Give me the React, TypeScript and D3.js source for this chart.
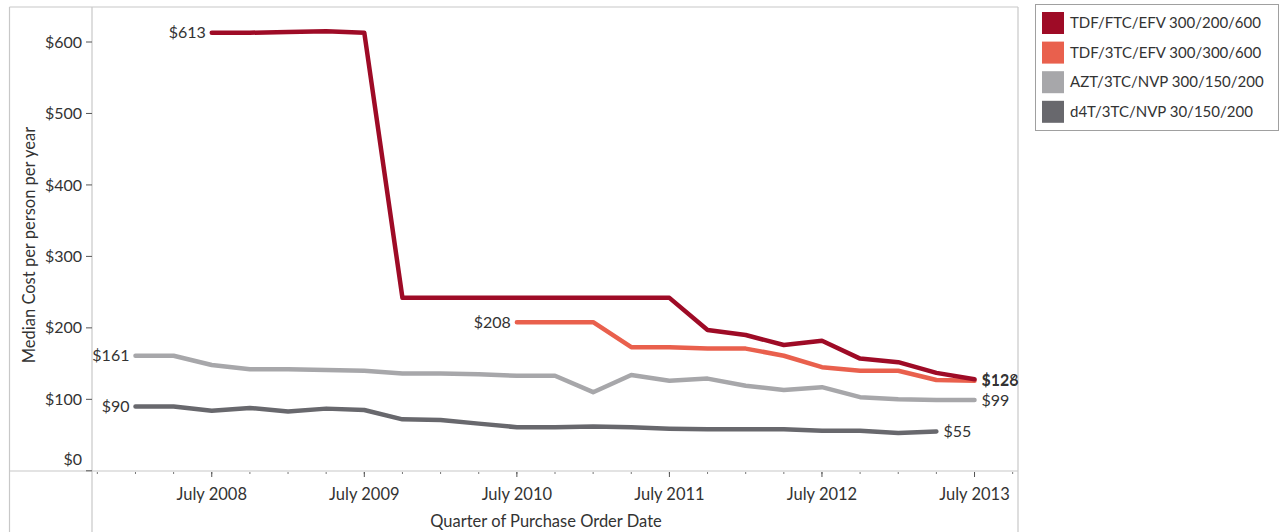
import React from "react";
import * as d3 from "d3";

// quarter index 0 = Q1 2008 ... 22 = Q3 2013
const quarters = d3.range(0, 23);
const tdfFtcEfv = [null, null, 613, 613, 614, 615, 613, 242, 242, 242, 242, 242, 242, 242, 242, 197, 190, 176, 182, 157, 152, 137, 128];
const tdf3tcEfv = [null, null, null, null, null, null, null, null, null, null, 208, 208, 208, 173, 173, 171, 171, 161, 145, 140, 140, 127, 126];
const azt3tcNvp = [161, 161, 148, 142, 142, 141, 140, 136, 136, 135, 133, 133, 110, 134, 126, 129, 119, 113, 117, 103, 100, 99, 99];
const d4t3tcNvp = [90, 90, 84, 88, 83, 87, 85, 72, 71, 66, 61, 61, 62, 61, 59, 58, 58, 58, 56, 56, 53, 55, null];

const seriesNames = ["TDF/FTC/EFV 300/200/600", "TDF/3TC/EFV 300/300/600", "AZT/3TC/NVP 300/150/200", "d4T/3TC/NVP 30/150/200"];
const seriesColors = ["#9E0B26", "#E9604D", "#A7A7AA", "#68686D"];
const seriesValues = [tdfFtcEfv, tdf3tcEfv, azt3tcNvp, d4t3tcNvp];

const yTicks = [0, 100, 200, 300, 400, 500, 600];
const xTickIdx = [2, 6, 10, 14, 18, 22];
const xTickLabels = ["July 2008", "July 2009", "July 2010", "July 2011", "July 2012", "July 2013"];
const minorIdx = d3.range(-1, 24);

const FONT = "Lato, 'Open Sans', sans-serif";
const TXT = "#333";

export default function App() {
  const W = 1281, H = 532;
  const left = 92, right = 1018, top = 7, bottom = 471;
  const x = d3.scaleLinear().domain([-1.14, 23.14]).range([left, right]);
  const y = d3.scaleLinear().domain([0, 600]).range([470.8, 42]);

  const line = d3
    .line<number | null>()
    .defined((d) => d != null)
    .x((_, i) => x(quarters[i]))
    .y((d) => y(d as number));

  const fmt = (v: number) => "$" + v;
  const drawOrder = [3, 2, 1, 0];

  return (
    <svg width={W} height={H} style={{ position: "absolute", left: 0, top: 0, background: "#fff" }} fontFamily={FONT}>
      {/* frame */}
      <g stroke="#c8c8c8" strokeWidth={1.2} fill="none">
        <line x1={9.5} y1={top} x2={right} y2={top} />
        <line x1={9.5} y1={top} x2={9.5} y2={H} />
        <line x1={left} y1={top} x2={left} y2={H} />
        <line x1={9.5} y1={bottom} x2={right} y2={bottom} />
        <line x1={right} y1={top} x2={right} y2={H} />
      </g>

      {/* y axis */}
      {yTicks.map((t) => (
        <g key={t}>
          <line x1={left - 6} x2={left} y1={y(t)} y2={y(t)} stroke="#555" strokeWidth={1} />
          <text
            x={left - 10}
            y={t === 0 ? y(t) - 11 : y(t)}
            dy="0.35em"
            textAnchor="end"
            fontSize={16}
            fill={TXT}
          >
            {fmt(t)}
          </text>
        </g>
      ))}
      <text
        transform={`translate(35,${(top + bottom) / 2 + 6}) rotate(-90)`}
        textAnchor="middle"
        fontSize={16.5}
        fill={TXT}
      >
        Median Cost per person per year
      </text>

      {/* x axis */}
      {minorIdx.map((i) => (
        <line key={"m" + i} x1={x(i)} x2={x(i)} y1={bottom + 1} y2={bottom + 3} stroke="#777" strokeWidth={1} />
      ))}
      {xTickIdx.map((i, k) => (
        <g key={"t" + i}>
          <line x1={x(i)} x2={x(i)} y1={bottom + 1} y2={bottom + 6} stroke="#555" strokeWidth={1} />
          <text x={x(i)} y={bottom + 29} textAnchor="middle" fontSize={16.5} fill={TXT}>
            {xTickLabels[k]}
          </text>
        </g>
      ))}
      <text x={546} y={bottom + 56} textAnchor="middle" fontSize={16.5} fill={TXT}>
        Quarter of Purchase Order Date
      </text>

      {/* lines */}
      {drawOrder.map((s) => (
        <path
          key={"l" + s}
          d={line(seriesValues[s]) || ""}
          fill="none"
          stroke={seriesColors[s]}
          strokeWidth={4.5}
          strokeLinejoin="round"
          strokeLinecap="round"
        />
      ))}

      {/* start / end labels */}
      {drawOrder.map((s) => {
        const vals = seriesValues[s];
        const first = vals.findIndex((v) => v != null);
        let last = vals.length - 1;
        while (vals[last] == null) last--;
        return (
          <g key={"lab" + s} fontSize={16} fill={TXT}>
            <text x={x(quarters[first]) - 6} y={y(vals[first] as number)} dy="0.35em" textAnchor="end">
              {fmt(vals[first] as number)}
            </text>
            <text x={x(quarters[last]) + 7} y={y(vals[last] as number)} dy="0.35em" textAnchor="start">
              {fmt(vals[last] as number)}
            </text>
          </g>
        );
      })}

      {/* legend */}
      <rect x={1035.5} y={4.5} width={243} height={126} fill="#fff" stroke="#a0a0a0" strokeWidth={1} />
      {seriesNames.map((n, i) => (
        <g key={"lg" + i} transform={`translate(1042,${12 + i * 29.6})`}>
          <rect x={0} y={0} width={22} height={22} fill={seriesColors[i]} />
          <text x={28} y={11} dy="0.35em" fontSize={15} fill={TXT}>
            {n}
          </text>
        </g>
      ))}
    </svg>
  );
}
